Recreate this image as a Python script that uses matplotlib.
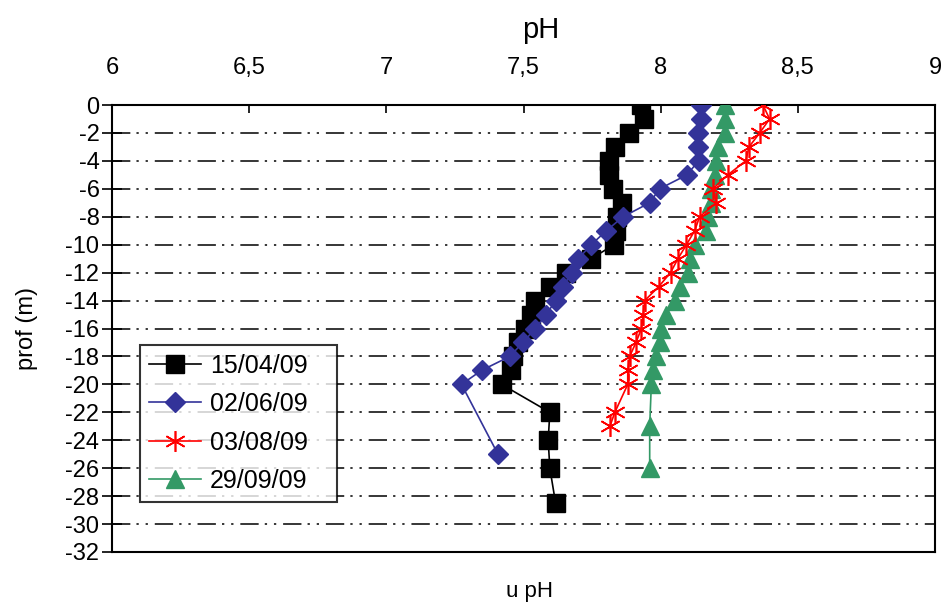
import matplotlib
matplotlib.use("Agg")
import matplotlib.pyplot as plt
from matplotlib.ticker import FuncFormatter

plt.rcParams['font.family'] = ['Liberation Sans', 'DejaVu Sans']
plt.rcParams['axes.unicode_minus'] = False

# profile 15/04/09
depth_a = [0, -1, -2, -3, -4, -5, -6, -7, -8, -9, -10, -11, -12, -13, -14,
           -15, -16, -17, -18, -19, -20, -22, -24, -26, -28.5]
ph_a = [7.93, 7.94, 7.885, 7.835, 7.81, 7.81, 7.825, 7.86, 7.84, 7.836, 7.83,
        7.747, 7.655, 7.596, 7.541, 7.529, 7.505, 7.48, 7.46, 7.455, 7.42,
        7.596, 7.59, 7.596, 7.617]

# profile 02/06/09
depth_b = [0, -1, -2, -3, -4, -5, -6, -7, -8, -9, -10, -11, -12, -13, -14,
           -15, -16, -17, -18, -19, -20, -25]
ph_b = [8.146, 8.146, 8.136, 8.136, 8.138, 8.096, 7.996, 7.96, 7.863, 7.802,
        7.747, 7.70, 7.675, 7.645, 7.617, 7.583, 7.543, 7.498, 7.45, 7.347,
        7.274, 7.407]

# profile 03/08/09
depth_c = [0, -1, -2, -3, -4, -5, -6, -7, -8, -9, -10, -11, -12, -13, -14,
           -15, -16, -17, -18, -19, -20, -22, -23]
ph_c = [8.373, 8.397, 8.361, 8.322, 8.31, 8.245, 8.19, 8.203, 8.142, 8.124,
        8.094, 8.063, 8.036, 7.993, 7.942, 7.936, 7.93, 7.91, 7.887, 7.88,
        7.88, 7.833, 7.815]

# profile 29/09/09
depth_d = [0, -1, -2, -3, -4, -5, -6, -7, -8, -9, -10, -11, -12, -13, -14,
           -15, -16, -17, -18, -19, -20, -23, -26]
ph_d = [8.233, 8.233, 8.233, 8.209, 8.203, 8.197, 8.185, 8.185, 8.172, 8.166,
        8.124, 8.106, 8.10, 8.069, 8.051, 8.02, 8.002, 7.996, 7.984, 7.972,
        7.966, 7.96, 7.96]

x_ticks = [6, 6.5, 7, 7.5, 8, 8.5, 9]
y_ticks = list(range(0, -33, -2))

fig = plt.figure(figsize=(9.42, 6.03), dpi=100)
ax = fig.add_axes([112 / 942, 1 - 552 / 603, 823 / 942, 447 / 603])

grid_dash = (0, (12, 4, 1.5, 4.5, 1.5, 4.5))
for yv in y_ticks[1:-1]:
    ax.axhline(yv, color='black', lw=1.1, linestyle=grid_dash, zorder=1)

ax.plot(ph_a, depth_a, color='black', lw=1.2, marker='s', ms=12.5,
        label='15/04/09', zorder=3)
ax.plot(ph_b, depth_b, color='#333399', lw=1.2, marker='D', ms=10,
        label='02/06/09', zorder=4)
ax.plot(ph_c, depth_c, color='#FF0000', lw=1.2, marker=(6, 2, 0), ms=15,
        mew=1.2, label='03/08/09', zorder=5)
ax.plot(ph_d, depth_d, color='#339966', lw=1.2, marker='^', ms=13,
        label='29/09/09', zorder=3)

ax.set_xlim(6, 9)
ax.set_ylim(-32, 0)
ax.set_xticks(x_ticks)
ax.set_yticks(y_ticks)
ax.xaxis.set_major_formatter(FuncFormatter(lambda v, p: ('%g' % v).replace('.', ',')))
ax.xaxis.tick_top()
ax.tick_params(axis='x', direction='in', length=6, width=1.2, labelsize=17, pad=19)
ax.tick_params(axis='y', direction='inout', length=14, width=1.2, labelsize=17, pad=2)
for s in ax.spines.values():
    s.set_linewidth(1.5)

ax.set_ylabel('prof (m)', fontsize=17, labelpad=20)
fig.text(541 / 942, 1 - 30 / 603, 'pH', fontsize=21, ha='center', va='center')
fig.text(530 / 942, 1 - 592 / 603, 'u pH', fontsize=16, ha='center', va='center')

leg = ax.legend(loc='lower left', bbox_to_anchor=(0.034, 0.112, 197 / 823, 0.3),
                mode='expand', fontsize=18,
                frameon=True, fancybox=False, edgecolor='black',
                borderpad=0.35, labelspacing=0.58, handlelength=2.1,
                handletextpad=0.35, borderaxespad=0)
leg.get_frame().set_linewidth(1.5)
leg.set_zorder(10)

fig.savefig('out.png', dpi=100)
